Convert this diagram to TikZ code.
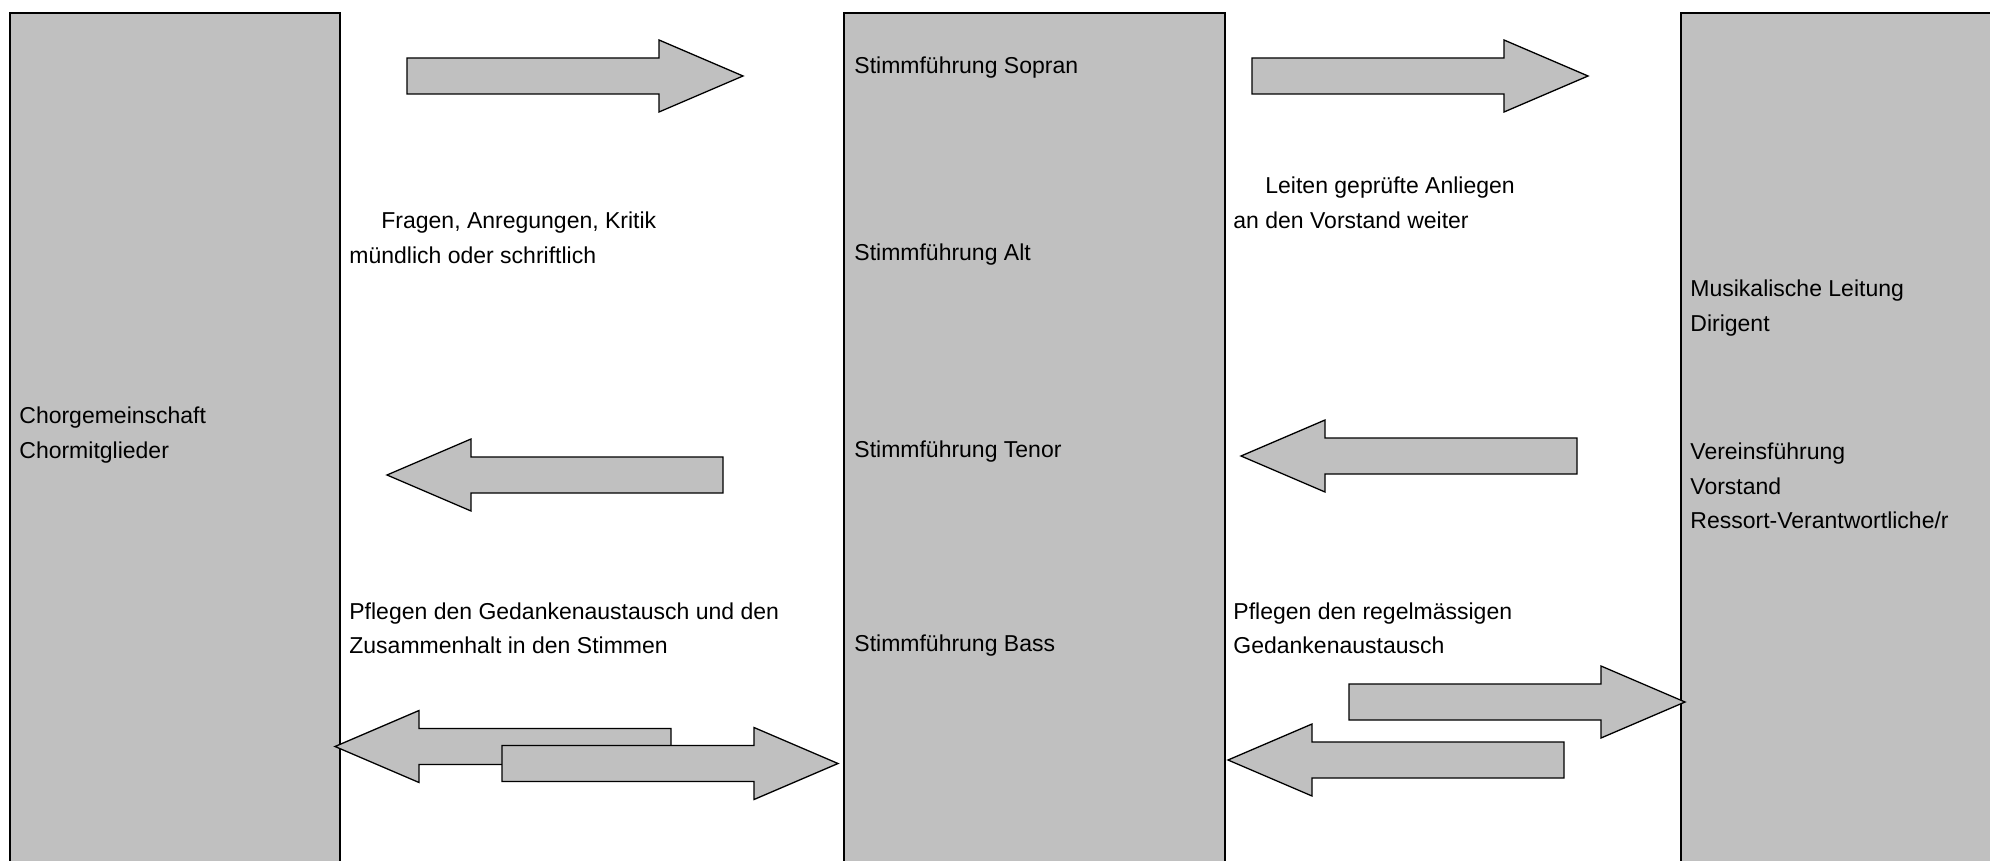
\documentclass[tikz,border=0pt]{standalone}
\usepackage{fontspec}
\setmainfont{Liberation Sans}
\definecolor{kastengrau}{HTML}{C0C0C0}

\tikzset{
  kasten/.style={draw=black, line width=1pt, fill=kastengrau},
  blockpfeil/.style={draw=black, line width=0.65pt, fill=kastengrau, line join=miter},
  txt/.style={anchor=west, inner sep=0pt, align=left,
    font=\fontsize{11.5pt}{17.25pt}\selectfont}
}

% Blockpfeile: Spitze bei (#1,#2)
\newcommand{\pfeilrechts}[2]{%
  \draw[blockpfeil] (#1,#2) -- ++(-84,-36) -- ++(0,18) -- ++(-252,0)
    -- ++(0,36) -- ++(252,0) -- ++(0,18) -- cycle;}
\newcommand{\pfeillinks}[2]{%
  \draw[blockpfeil] (#1,#2) -- ++(84,-36) -- ++(0,18) -- ++(252,0)
    -- ++(0,36) -- ++(-252,0) -- ++(0,18) -- cycle;}

\begin{document}
\begin{tikzpicture}[x=0.5pt, y=-0.5pt]
        \useasboundingbox (0,0) rectangle (1990,861);
        \clip (0,0) rectangle (1990,861);

        % Kaesten
        \draw[kasten] (10,13) rectangle (340,880);
        \draw[kasten] (844,13) rectangle (1225,880);
        \draw[kasten] (1681,13) rectangle (2010,880);

        % Pfeile oben und Mitte
        \pfeilrechts{743}{76}
        \pfeilrechts{1588}{76}
        \pfeillinks{387}{475}
        \pfeillinks{1241}{456}

        % Pfeile unten
        \pfeillinks{335}{746.5}
        \pfeilrechts{838}{763.5}
        \pfeilrechts{1685}{702}
        \pfeillinks{1228}{760}

        % Beschriftung Kaesten
        \node[txt] (chor) at (19,435) {Chorgemeinschaft\\Chormitglieder};
        \node[txt] (sopran) at (854,67.5) {Stimmführung Sopran};
        \node[txt] (alt) at (854,255) {Stimmführung Alt};
        \node[txt] (tenor) at (854,452) {Stimmführung Tenor};
        \node[txt] (bass) at (854,646) {Stimmführung Bass};
        \node[txt] (leitung) at (1690,308) {Musikalische Leitung\\Dirigent};
        \node[txt] (verein) at (1690,486) {Vereinsführung\\Vorstand\\Ressort-Verantwortliche/r};

        % Beschriftung Pfeile
        \node[txt] (fragen) at (349,238)
          {\hspace*{16pt}Fragen, Anregungen, Kritik\\mündlich oder schriftlich};
        \node[txt] (leiten) at (1233,203)
          {\hspace*{16pt}Leiten geprüfte Anliegen\\an den Vorstand weiter};
        \node[txt] (pflegenstimmen) at (349,628.5)
          {Pflegen den Gedankenaustausch und den\\Zusammenhalt in den Stimmen};
        \node[txt] (pflegenvorstand) at (1233,628.5)
          {Pflegen den regelmässigen\\Gedankenaustausch};
    \end{tikzpicture}
\end{document}
